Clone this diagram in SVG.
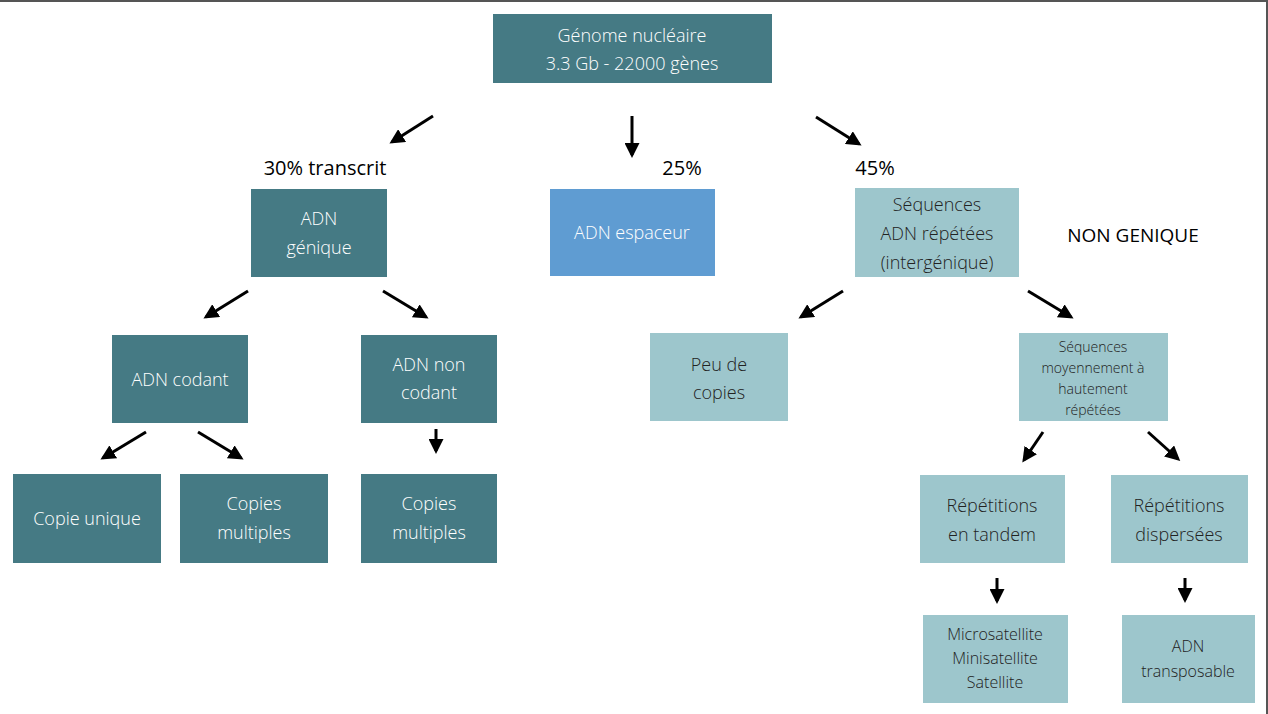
<svg xmlns="http://www.w3.org/2000/svg" width="1268" height="714" viewBox="0 0 1268 714">
<style>
.d{fill:#457A84}.l{fill:#9DC6CC}.b{fill:#5F9CD2}
text{font-family:"Open Sans","Liberation Sans",sans-serif;text-anchor:middle}
.nt{font-size:18px;fill:#fff;font-weight:300}
.nd{font-size:18px;fill:#222;font-weight:300}
.ns{font-size:14px;fill:#222;font-weight:300}
.lb{font-size:20px;fill:#000}
.c line{stroke:#000;stroke-width:3;marker-end:url(#a)}
</style>
<defs><marker id="a" markerWidth="5" markerHeight="5" refX="4" refY="2.5" orient="auto"><path d="M0,0 L5,2.5 L0,5 Z" fill="#000"/></marker></defs>
<rect width="1268" height="714" fill="#fff"/>
<path d="M0,1 H1267 V714" fill="none" stroke="#555" stroke-width="2"/>
<g id="n1"><rect class="d" x="493" y="14" width="279" height="69"/><text class="nt" x="632" y="42">Génome nucléaire</text><text class="nt" x="632" y="70">3.3 Gb - 22000 gènes</text></g>
<g id="n2"><rect class="d" x="251" y="189" width="136" height="88"/><text class="nt" x="319" y="225">ADN</text><text class="nt" x="319" y="254">génique</text></g>
<g id="n3"><rect class="b" x="550" y="189" width="165" height="87"/><text class="nt" x="632" y="239" style="fill:#fff">ADN espaceur</text></g>
<g id="n4"><rect class="l" x="855" y="188" width="164" height="89"/><text class="nd" x="937" y="211">Séquences</text><text class="nd" x="937" y="240">ADN répétées</text><text class="nd" x="937" y="269">(intergénique)</text></g>
<g id="n5"><rect class="d" x="112" y="335" width="136" height="88"/><text class="nt" x="180" y="386">ADN codant</text></g>
<g id="n6"><rect class="d" x="361" y="335" width="136" height="88"/><text class="nt" x="429" y="371">ADN non</text><text class="nt" x="429" y="399">codant</text></g>
<g id="n7"><rect class="l" x="650" y="333" width="138" height="88"/><text class="nd" x="719" y="371">Peu de</text><text class="nd" x="719" y="399">copies</text></g>
<g id="n8"><rect class="l" x="1019" y="333" width="149" height="88"/><text class="ns" x="1093" y="352">Séquences</text><text class="ns" x="1093" y="373">moyennement à</text><text class="ns" x="1093" y="394">hautement</text><text class="ns" x="1093" y="415">répétées</text></g>
<g id="n9"><rect class="d" x="13" y="474" width="148" height="89"/><text class="nt" x="87" y="525">Copie unique</text></g>
<g id="n10"><rect class="d" x="180" y="474" width="148" height="89"/><text class="nt" x="254" y="510">Copies</text><text class="nt" x="254" y="539">multiples</text></g>
<g id="n11"><rect class="d" x="361" y="474" width="136" height="89"/><text class="nt" x="429" y="510">Copies</text><text class="nt" x="429" y="539">multiples</text></g>
<g id="n12"><rect class="l" x="920" y="475" width="145" height="88"/><text class="nd" x="992" y="512">Répétitions</text><text class="nd" x="992" y="541">en tandem</text></g>
<g id="n13"><rect class="l" x="1111" y="475" width="137" height="88"/><text class="nd" x="1179" y="512">Répétitions</text><text class="nd" x="1179" y="541">dispersées</text></g>
<g id="n14"><rect class="l" x="923" y="615" width="145" height="88"/><text class="ns" x="995" y="640" style="font-size:16px">Microsatellite</text><text class="ns" x="995" y="664" style="font-size:16px">Minisatellite</text><text class="ns" x="995" y="688" style="font-size:16px">Satellite</text></g>
<g id="n15"><rect class="l" x="1122" y="615" width="133" height="88"/><text class="ns" x="1188" y="652" style="font-size:16px">ADN</text><text class="ns" x="1188" y="677" style="font-size:16px">transposable</text></g>
<g id="labels">
<text class="lb" x="325" y="175">30% transcrit</text>
<text class="lb" x="682" y="175">25%</text>
<text class="lb" x="875" y="175">45%</text>
<text class="lb" x="1133" y="242" style="font-size:19px">NON GENIQUE</text>
</g>
<g class="c" id="connectors">
<line x1="433" y1="116" x2="392" y2="142"/>
<line x1="632" y1="116" x2="632" y2="155"/>
<line x1="816" y1="117" x2="859" y2="144"/>
<line x1="248" y1="291" x2="206" y2="317"/>
<line x1="383" y1="291" x2="426" y2="317"/>
<line x1="146" y1="432" x2="103" y2="458"/>
<line x1="198" y1="432" x2="241" y2="458"/>
<line x1="436" y1="429" x2="436" y2="451"/>
<line x1="843" y1="291" x2="801" y2="317"/>
<line x1="1028" y1="291" x2="1071" y2="317"/>
<line x1="1043" y1="432" x2="1024" y2="460"/>
<line x1="1148" y1="432" x2="1178" y2="459"/>
<line x1="997" y1="578" x2="997" y2="601"/>
<line x1="1185" y1="578" x2="1185" y2="600"/>
</g>
</svg>
